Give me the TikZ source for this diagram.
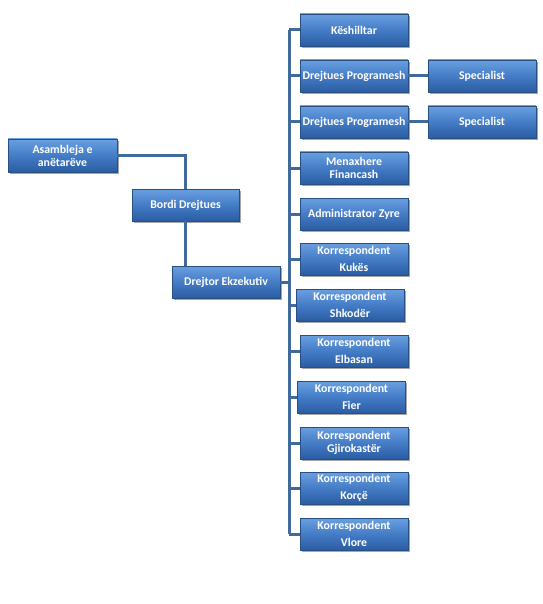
\documentclass[tikz,border=0pt]{standalone}
\usepackage{fontspec}
\setmainfont{Carlito}
\usetikzlibrary{shadows,calc}
\definecolor{linec}{HTML}{3F6A9B}
\definecolor{boxtop}{HTML}{6AA0E0}
\definecolor{boxmid}{HTML}{447CC6}
\definecolor{boxbot}{HTML}{2A5CA2}
\definecolor{boxdraw}{HTML}{274F82}
\begin{document}
\begin{tikzpicture}[x=1pt,y=-1pt,
  box/.style={rectangle, draw=boxdraw, line width=0.5pt,
    top color=boxtop, bottom color=boxbot, middle color=boxmid,
    minimum width=108pt, minimum height=32pt, inner sep=1pt,
    text=white, font=\bfseries\fontsize{11.8}{17}\selectfont, align=center,
    drop shadow={shadow xshift=1.5pt, shadow yshift=-2pt, opacity=0.35, fill=black}},
  conn/.style={draw=linec, line width=3pt}]
\useasboundingbox (0,0) rectangle (542,604);
\fill[white] (0,0) rectangle (542,604);
% bus
\coordinate (bt) at (289,30);
\coordinate (bb) at (289,534);
\draw[conn] (bt) -- (bb);
\node[box, minimum width=109pt, minimum height=33pt] (asm) at (62.5,155.5) {Asambleja e\\[-4pt]anëtarëve};
\node[box, minimum width=107pt] (bordi) at (185.5,205) {Bordi Drejtues};
\node[box] (drej) at (226,282) {Drejtor Ekzekutiv};
\node[box] (kesh) at (354,30) {Këshilltar};
\node[box] (dp1) at (354,76) {Drejtues Programesh};
\node[box] (dp2) at (354,122) {Drejtues Programesh};
\node[box] (men) at (354,168) {Menaxhere\\[-4pt]Financash};
\node[box] (adm) at (354,214) {Administrator Zyre};
\node[box] (kuk) at (354,259) {Korrespondent\\Kukës};
\node[box] (shk) at (350,305) {Korrespondent\\Shkodër};
\node[box] (elb) at (354,351) {Korrespondent\\Elbasan};
\node[box] (fie) at (351.5,397) {Korrespondent\\Fier};
\node[box] (gji) at (354,443) {Korrespondent\\[-4pt]Gjirokastër};
\node[box] (kor) at (354,488) {Korrespondent\\Korçë};
\node[box] (vlo) at (354,534) {Korrespondent\\Vlore};
\node[box] (sp1) at (482,76) {Specialist};
\node[box] (sp2) at (482,122) {Specialist};
% connectors
\draw[conn] (asm.east) -| (bordi.north);
\draw[conn] (bordi.south) -- (bordi.south |- drej.north);
\draw[conn] (drej.east) -- (drej.east -| bt);
\foreach \n in {kesh,dp1,dp2,men,adm,kuk,shk,elb,fie,gji,kor,vlo}{
  \draw[conn] (\n.west -| bt) -- (\n.west);
}
\draw[conn] (dp1.east) -- (sp1.west);
\draw[conn] (dp2.east) -- (sp2.west);
\end{tikzpicture}
\end{document}
